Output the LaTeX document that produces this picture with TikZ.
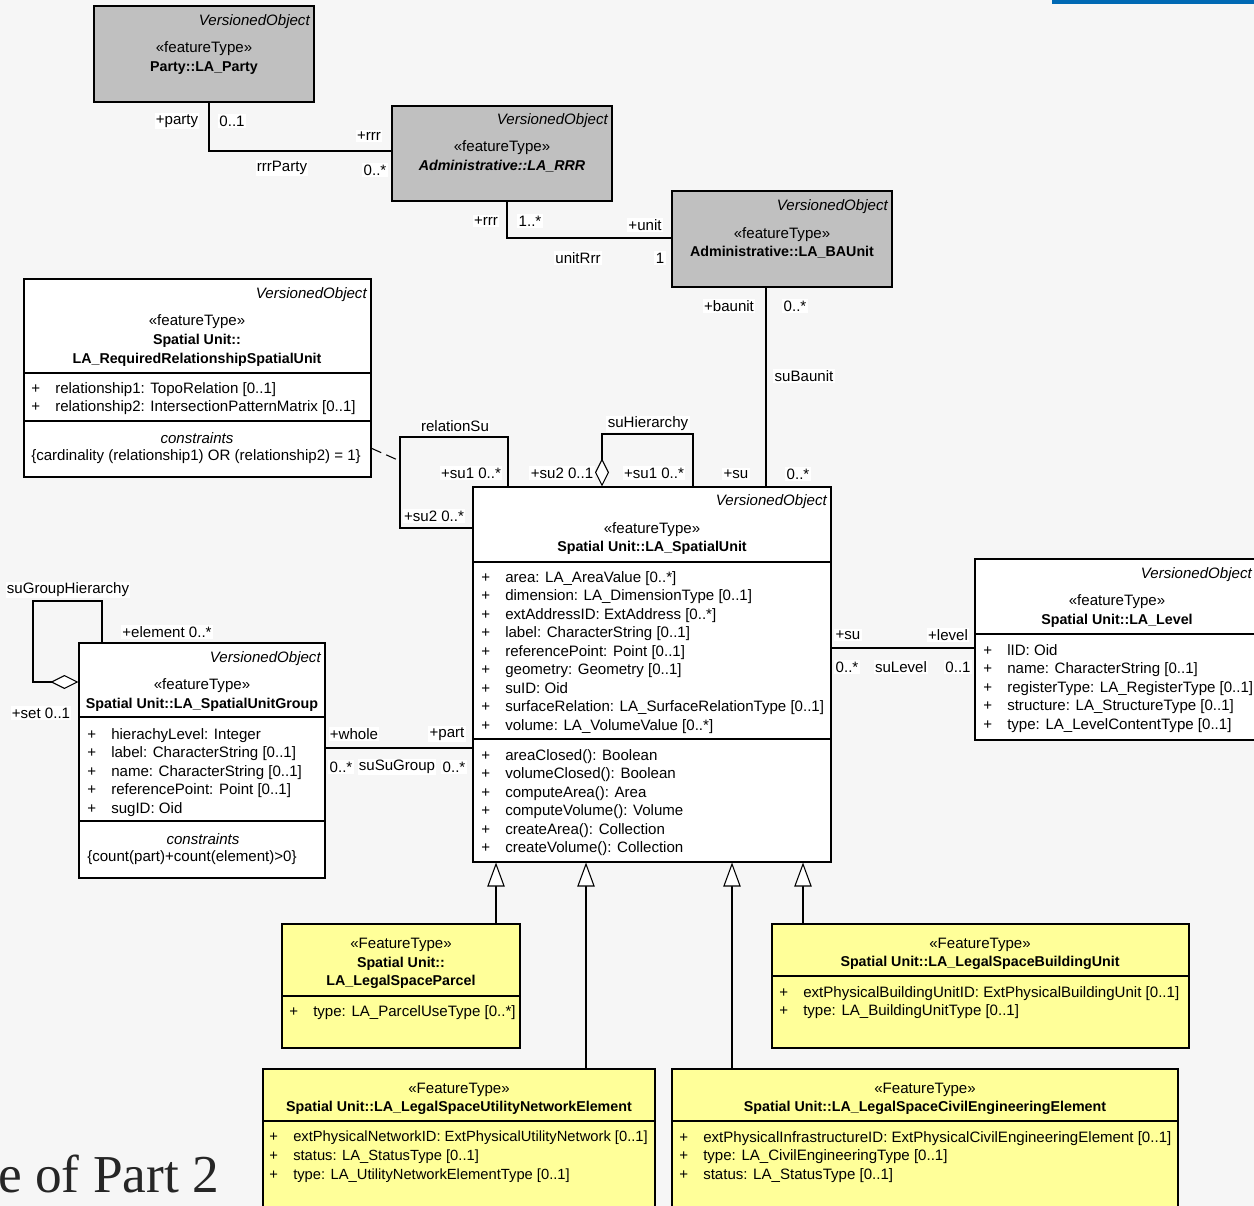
\documentclass[tikz,border=0pt]{standalone}
\usepackage{fontspec}
\setmainfont{Liberation Sans}
\newfontfamily\partfont{Liberation Serif}
\usetikzlibrary{arrows.meta,fit}

\definecolor{umlgray}{RGB}{192,192,192}
\definecolor{umlyellow}{RGB}{255,255,153}
\definecolor{slidebg}{RGB}{246,246,246}
\definecolor{slideblue}{RGB}{0,105,180}

\newcommand{\plusattr}{\makebox[18pt][l]{+}}
\newcommand{\cname}[1]{{\fontsize{10.7}{13.9}\selectfont\bfseries #1}}

\begin{document}
\begin{tikzpicture}[
    x=0.75pt, y=-0.75pt,
    font=\fontsize{11.3}{13.9}\selectfont,
    classbox/.style={draw, line width=0.8pt, inner sep=0pt, fill=white},
    adminbox/.style={classbox, fill=umlgray},
    legalbox/.style={classbox, fill=umlyellow},
    vobj/.style={anchor=east, inner sep=0pt, yshift=-1.5pt, font=\fontsize{11.3}{13.9}\selectfont\itshape},
    clsname/.style={align=center, inner sep=0pt, yshift=-1.5pt},
    ctitle/.style={inner sep=0pt, yshift=-1.5pt, font=\fontsize{11.3}{13.9}\selectfont\itshape},
    attrlist/.style={align=left, anchor=north west, inner sep=0pt},
    lbl/.style={fill=white, inner sep=1pt, yshift=-1.5pt},
    sep/.style={line width=0.8pt},
    assoc/.style={line width=0.8pt},
    aggr/.style={assoc, {Diamond[fill=white, length=21pt, width=10.5pt]}-},
    gen/.style={assoc, -{Triangle[fill=white, length=18pt, width=13pt]}}
  ]

  % slide background
  \fill[slidebg] (0,0) rectangle (1254,1206);
  \useasboundingbox (0,0) rectangle (1254,1206);
  \fill[slideblue] (1052,0) rectangle (1254,4);
  \node[anchor=base west, inner sep=0pt, font=\partfont\fontsize{40}{48}\selectfont, text=black!85] (part-title) at (-2,1192) {e of Part 2};

  % administrative and party classes
  \node[adminbox, fit={(94,6) (314,102)}] (party) {};
  \node[vobj] (party-vo) at (310,20) {VersionedObject};
  \node[clsname] (party-nm) at (204,56) {«featureType»\\\cname{Party::LA\_Party}};

  \node[adminbox, fit={(392,106) (612,201)}] (rrr) {};
  \node[vobj] (rrr-vo) at (608,119) {VersionedObject};
  \node[clsname] (rrr-nm) at (502,154.5) {«featureType»\\\cname{\itshape Administrative::LA\_RRR}};

  \node[adminbox, fit={(672,191) (892,287)}] (baunit) {};
  \node[vobj] (baunit-vo) at (888,205) {VersionedObject};
  \node[clsname] (baunit-nm) at (782,241) {«featureType»\\\cname{Administrative::LA\_BAUnit}};

  % required relationship
  \node[classbox, fit={(24,279) (371,477)}] (reqrel) {};
  \node[vobj] (reqrel-vo) at (367,293) {VersionedObject};
  \node[clsname] (reqrel-nm) at (197,338.5) {«featureType»\\\cname{Spatial Unit::}\\\cname{LA\_RequiredRelationshipSpatialUnit}};
  \draw[sep] (reqrel.west |- 0,373) -- (reqrel.east |- 0,373);
  \node[attrlist] (reqrel-at) at (31,382) {\plusattr relationship1: TopoRelation [0..1]\\
    \plusattr relationship2: IntersectionPatternMatrix [0..1]};
  \draw[sep] (reqrel.west |- 0,421) -- (reqrel.east |- 0,421);
  \node[ctitle] (reqrel-ct) at (197,436) {constraints};
  \node[anchor=west, inner sep=0pt, yshift=-1.5pt] (reqrel-cb) at (31,455) {\{cardinality (relationship1) OR (relationship2) = 1\}};

  % spatial unit
  \node[classbox, fit={(473,487) (831,862)}] (su) {};
  \node[vobj] (su-vo) at (827,500) {VersionedObject};
  \node[clsname] (su-nm) at (652,536.5) {«featureType»\\\cname{Spatial Unit::LA\_SpatialUnit}};
  \draw[sep] (su.west |- 0,562) -- (su.east |- 0,562);
  \node[attrlist] (su-at) at (481,571) {\plusattr area: LA\_AreaValue [0..*]\\
    \plusattr dimension: LA\_DimensionType [0..1]\\
    \plusattr extAddressID: ExtAddress [0..*]\\
    \plusattr label: CharacterString [0..1]\\
    \plusattr referencePoint: Point [0..1]\\
    \plusattr geometry: Geometry [0..1]\\
    \plusattr suID: Oid\\
    \plusattr surfaceRelation: LA\_SurfaceRelationType [0..1]\\
    \plusattr volume: LA\_VolumeValue [0..*]};
  \draw[sep] (su.west |- 0,739) -- (su.east |- 0,739);
  \node[attrlist] (su-op) at (481,749) {\plusattr areaClosed(): Boolean\\
    \plusattr volumeClosed(): Boolean\\
    \plusattr computeArea(): Area\\
    \plusattr computeVolume(): Volume\\
    \plusattr createArea(): Collection\\
    \plusattr createVolume(): Collection};

  % spatial unit group
  \node[classbox, fit={(79,643) (325,878)}] (group) {};
  \node[vobj] (group-vo) at (321,657) {VersionedObject};
  \node[clsname] (group-nm) at (202,693) {«featureType»\\\cname{Spatial Unit::LA\_SpatialUnitGroup}};
  \draw[sep] (group.west |- 0,717) -- (group.east |- 0,717);
  \node[attrlist] (group-at) at (87,728) {\plusattr hierachyLevel: Integer\\
    \plusattr label: CharacterString [0..1]\\
    \plusattr name: CharacterString [0..1]\\
    \plusattr referencePoint: Point [0..1]\\
    \plusattr sugID: Oid};
  \draw[sep] (group.west |- 0,821) -- (group.east |- 0,821);
  \node[ctitle] (group-ct) at (203,837) {constraints};
  \node[anchor=west, inner sep=0pt, yshift=-1.5pt] (group-cb) at (87,856) {\{count(part)+count(element)>0\}};

  % level
  \node[classbox, fit={(975,559) (1259,740)}] (level) {};
  \node[vobj] (level-vo) at (1252,573) {VersionedObject};
  \node[clsname] (level-nm) at (1117,609) {«featureType»\\\cname{Spatial Unit::LA\_Level}};
  \draw[sep] (level.west |- 0,634) -- (level.east |- 0,634);
  \node[attrlist] (level-at) at (983,644) {\plusattr lID: Oid\\
    \plusattr name: CharacterString [0..1]\\
    \plusattr registerType: LA\_RegisterType [0..1]\\
    \plusattr structure: LA\_StructureType [0..1]\\
    \plusattr type: LA\_LevelContentType [0..1]};

  % legal space subclasses
  \node[legalbox, fit={(282,924) (520,1048)}] (parcel) {};
  \node[clsname] (parcel-nm) at (401,961.5) {«FeatureType»\\\cname{Spatial Unit::}\\\cname{LA\_LegalSpaceParcel}};
  \draw[sep] (parcel.west |- 0,996) -- (parcel.east |- 0,996);
  \node[attrlist] (parcel-at) at (289,1005) {\plusattr type: LA\_ParcelUseType [0..*]};

  \node[legalbox, fit={(772,924) (1189,1048)}] (building) {};
  \node[clsname] (building-nm) at (980,952) {«FeatureType»\\\cname{Spatial Unit::LA\_LegalSpaceBuildingUnit}};
  \draw[sep] (building.west |- 0,976) -- (building.east |- 0,976);
  \node[attrlist] (building-at) at (779,986) {\plusattr extPhysicalBuildingUnitID: ExtPhysicalBuildingUnit [0..1]\\
    \plusattr type: LA\_BuildingUnitType [0..1]};

  \node[legalbox, fit={(263,1069) (655,1215)}] (utility) {};
  \node[clsname] (utility-nm) at (459,1097) {«FeatureType»\\\cname{Spatial Unit::LA\_LegalSpaceUtilityNetworkElement}};
  \draw[sep] (utility.west |- 0,1121) -- (utility.east |- 0,1121);
  \node[attrlist, font=\fontsize{11.05}{13.9}\selectfont] (utility-at) at (269,1131) {\plusattr extPhysicalNetworkID: ExtPhysicalUtilityNetwork [0..1]\\
    \plusattr status: LA\_StatusType [0..1]\\
    \plusattr type: LA\_UtilityNetworkElementType [0..1]};

  \node[legalbox, fit={(672,1069) (1178,1215)}] (civil) {};
  \node[clsname] (civil-nm) at (925,1097) {«FeatureType»\\\cname{Spatial Unit::LA\_LegalSpaceCivilEngineeringElement}};
  \draw[sep] (civil.west |- 0,1121) -- (civil.east |- 0,1121);
  \node[attrlist] (civil-at) at (679,1131) {\plusattr extPhysicalInfrastructureID: ExtPhysicalCivilEngineeringElement [0..1]\\
    \plusattr type: LA\_CivilEngineeringType [0..1]\\
    \plusattr status: LA\_StatusType [0..1]};

  % associations
  \coordinate (prt-bend) at (209,151);
  \draw[assoc] (party.south -| prt-bend) -- (prt-bend) -- (rrr.west |- prt-bend);
  \coordinate (unr-bend) at (507,238);
  \draw[assoc] (rrr.south -| unr-bend) -- (unr-bend) -- (baunit.west |- unr-bend);
  \coordinate (sub-x) at (766,380);
  \draw[assoc] (baunit.south -| sub-x) -- (su.north -| sub-x);

  \coordinate (rsu-a) at (508,437);
  \coordinate (rsu-b) at (400,528);
  \coordinate (rsu-c) at (400,461);
  \draw[assoc] (su.north -| rsu-a) -- (rsu-a) -| (rsu-b) -- (su.west |- rsu-b);
  \draw[assoc, dash pattern=on 8pt off 4pt] (reqrel.-22.8) -- (rsu-c);

  \coordinate (suh-a) at (602,434);
  \coordinate (suh-b) at (693,434);
  \draw[aggr] (su.north -| suh-a) -- (suh-a) -- (suh-b) -- (su.north -| suh-b);

  \coordinate (sgh-a) at (33,682);
  \coordinate (sgh-b) at (33,601);
  \coordinate (sgh-c) at (102,601);
  \draw[aggr] (group.west |- sgh-a) -- (sgh-a) -- (sgh-b) -- (sgh-c) -- (group.north -| sgh-c);

  \coordinate (ssg) at (400,748);
  \draw[assoc] (group.east |- ssg) -- (su.west |- ssg);
  \coordinate (sul) at (900,648);
  \draw[assoc] (su.east |- sul) -- (level.west |- sul);

  % generalisations
  \coordinate (gen-parcel) at (496,900);
  \coordinate (gen-utility) at (586,900);
  \coordinate (gen-civil) at (732,900);
  \coordinate (gen-building) at (803,900);
  \draw[gen] (parcel.north -| gen-parcel) -- (su.south -| gen-parcel);
  \draw[gen] (utility.north -| gen-utility) -- (su.south -| gen-utility);
  \draw[gen] (civil.north -| gen-civil) -- (su.south -| gen-civil);
  \draw[gen] (building.north -| gen-building) -- (su.south -| gen-building);

  % role and multiplicity labels
  \node[lbl] (l-party) at (177,119) {+party};
  \node[lbl] (l-party-m) at (232,119) {0..1};
  \node[lbl] (l-rrr1) at (369,134) {+rrr};
  \node[lbl] (l-rrrparty) at (282,166) {rrrParty};
  \node[lbl] (l-rrr1-m) at (375,168) {0..*};
  \node[lbl] (l-rrr2) at (486,219) {+rrr};
  \node[lbl] (l-rrr2-m) at (530,219) {1..*};
  \node[lbl] (l-unit) at (645,223) {+unit};
  \node[lbl] (l-unitrrr) at (578,256) {unitRrr};
  \node[lbl] (l-unit-m) at (660,256) {1};
  \node[lbl] (l-baunit) at (729,304) {+baunit};
  \node[lbl] (l-baunit-m) at (795,304) {0..*};
  \node[lbl] (l-subaunit) at (804,374) {suBaunit};
  \node[lbl] (l-su1) at (736,472) {+su};
  \node[lbl] (l-su1-m) at (798,472) {0..*};
  \node[lbl] (l-relsu) at (455,424.5) {relationSu};
  \node[lbl] (l-relsu1) at (471,471) {+su1 0..*};
  \node[lbl] (l-relsu2) at (434,514) {+su2 0..*};
  \node[lbl] (l-suh) at (648,422) {suHierarchy};
  \node[lbl] (l-suh2) at (562,471) {+su2 0..1};
  \node[lbl] (l-suh1) at (654,471) {+su1 0..*};
  \node[lbl] (l-sgh) at (68,588) {suGroupHierarchy};
  \node[lbl] (l-element) at (167,630) {+element 0..*};
  \node[lbl] (l-set) at (41,711) {+set 0..1};
  \node[lbl] (l-whole) at (354,732) {+whole};
  \node[lbl] (l-part) at (447,732) {+part};
  \node[lbl] (l-whole-m) at (341,765) {0..*};
  \node[lbl] (l-susugroup) at (397,765) {suSuGroup};
  \node[lbl] (l-part-m) at (454,765) {0..*};
  \node[lbl] (l-su2) at (848,633) {+su};
  \node[lbl] (l-level) at (948,633) {+level};
  \node[lbl] (l-su2-m) at (847,665) {0..*};
  \node[lbl] (l-sulevel) at (901,665) {suLevel};
  \node[lbl] (l-level-m) at (958,665) {0..1};

\end{tikzpicture}
\end{document}
